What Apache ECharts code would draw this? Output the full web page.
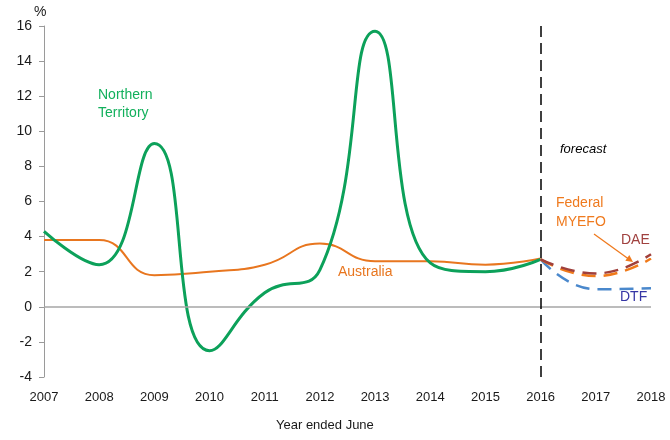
<!DOCTYPE html>
<html style="height: 100%">
<head>
    <meta charset="utf-8">
    <script src="https://cdn.jsdelivr.net/npm/echarts@6/dist/echarts.min.js"></script>
</head>
<body style="height: 100%; margin: 0">
    <div id="main" style="width: 670px; height: 440px"></div>
    <script type="text/javascript">
        // annual growth, year ended June
        var years = [2007, 2008, 2009, 2010, 2011, 2012, 2013, 2014, 2015, 2016];
        var ntValues = [4.3, 2.4, 9.3, -2.5, 0.8, 2.1, 15.7, 2.5, 2.0, 2.7];
        var ausValues = [3.8, 3.8, 1.8, 2.0, 2.4, 3.6, 2.6, 2.6, 2.4, 2.75];

        // forecasts
        var forecastYears = [2016, 2017, 2018];
        var daeValues = [2.7, 1.9, 3.0];
        var myefoValues = [2.7, 1.75, 2.75];
        var dtfValues = [2.7, 1.0, 1.05];

        var yTicks = [-4, -2, 0, 2, 4, 6, 8, 10, 12, 14, 16];

        function pairs(xs, ys) {
            return xs.map(function (x, i) { return [x, ys[i]]; });
        }

        var font = 'Arial, "Liberation Sans", sans-serif';
        var myChart = echarts.init(document.getElementById('main'));

        var option = {
            animation: false,
            grid: { left: 44, right: 19, top: 26, bottom: 63 },
            xAxis: {
                type: 'value',
                min: 2007,
                max: 2018,
                interval: 1,
                axisLine: { show: false },
                axisTick: { show: false },
                splitLine: { show: false },
                axisLabel: {
                    margin: 14,
                    color: '#1a1a1a',
                    fontSize: 13,
                    fontFamily: font,
                    formatter: function (v) { return String(v); }
                }
            },
            yAxis: {
                type: 'value',
                min: yTicks[0],
                max: yTicks[yTicks.length - 1],
                interval: 2,
                axisLine: { show: true, lineStyle: { color: '#9a9a9a', width: 1 } },
                axisTick: { show: true, length: 5, lineStyle: { color: '#9a9a9a' } },
                splitLine: { show: false },
                axisLabel: { margin: 12, color: '#1a1a1a', fontSize: 14, fontFamily: font }
            },
            series: [
                {
                    name: 'Australia',
                    type: 'line',
                    smooth: 0.5,
                    symbol: 'none',
                    data: pairs(years, ausValues),
                    lineStyle: { color: '#e8761f', width: 2 },
                    z: 2
                },
                {
                    name: 'Northern Territory',
                    type: 'line',
                    smooth: 0.5,
                    symbol: 'none',
                    data: pairs(years, ntValues),
                    lineStyle: { color: '#0ca15a', width: 3 },
                    z: 3,
                    markLine: {
                        silent: true,
                        symbol: 'none',
                        label: { show: false },
                        data: [
                            { yAxis: 0, lineStyle: { color: '#a6a6a6', width: 1.5, type: 'solid' } },
                            { xAxis: 2016, lineStyle: { color: '#000', width: 1.5, type: [11, 6] } }
                        ]
                    }
                },
                {
                    name: 'DTF',
                    type: 'line',
                    smooth: 0.5,
                    symbol: 'none',
                    data: pairs(forecastYears, dtfValues),
                    lineStyle: { color: '#4a88cc', width: 2.5, type: [14, 8] },
                    z: 4
                },
                {
                    name: 'Federal MYEFO',
                    type: 'line',
                    smooth: 0.5,
                    symbol: 'none',
                    data: pairs(forecastYears, myefoValues),
                    lineStyle: { color: '#f07a1a', width: 2.5, type: [14, 8] },
                    z: 4
                },
                {
                    name: 'DAE',
                    type: 'line',
                    smooth: 0.5,
                    symbol: 'none',
                    data: pairs(forecastYears, daeValues),
                    lineStyle: { color: '#a0403c', width: 2.5, type: [14, 8] },
                    z: 4
                }
            ],
            graphic: [
                { type: 'text', left: 34, top: 5, style: { text: '%', fontSize: 14, fontFamily: font, fill: '#1a1a1a' } },
                { type: 'text', left: 98, top: 86, style: { text: 'Northern\nTerritory', fontSize: 14, lineHeight: 18, fontFamily: font, fill: '#12b05c' } },
                { type: 'text', left: 338, top: 265, style: { text: 'Australia', fontSize: 14, fontFamily: font, fill: '#e8761f' } },
                { type: 'text', left: 560, top: 143, style: { text: 'forecast', fontSize: 13, fontStyle: 'italic', fontFamily: font, fill: '#000' } },
                { type: 'text', left: 556, top: 194, style: { text: 'Federal\nMYEFO', fontSize: 14, lineHeight: 18.5, fontFamily: font, fill: '#ef7a1e' } },
                { type: 'text', left: 621, top: 233, style: { text: 'DAE', fontSize: 14, fontFamily: font, fill: '#a0413f' } },
                { type: 'text', left: 620, top: 290, style: { text: 'DTF', fontSize: 14, fontFamily: font, fill: '#3535a5' } },
                { type: 'line', shape: { x1: 594, y1: 234, x2: 630, y2: 260 }, style: { stroke: '#ef7a1e', lineWidth: 1.3 } },
                { type: 'polygon', shape: { points: [[633, 262], [625.3, 260.8], [629.3, 255.1]] }, style: { fill: '#ef7a1e' } },
                { type: 'text', left: 276, top: 419, style: { text: 'Year ended June', fontSize: 13, fontFamily: font, fill: '#1a1a1a' } }
            ]
        };

        myChart.setOption(option);
    </script>
</body>
</html>
